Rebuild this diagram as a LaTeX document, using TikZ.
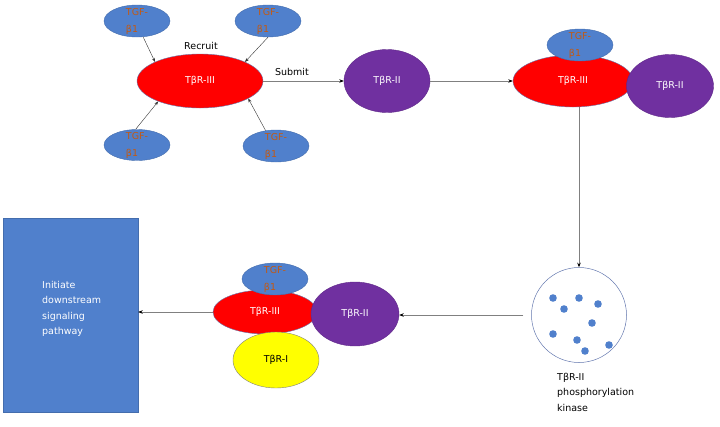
\documentclass[tikz,border=0pt]{standalone}
\usepackage{fontspec}
\setmainfont{DejaVu Sans}
\usetikzlibrary{shapes.geometric,arrows.meta}
\definecolor{tgfblue}{RGB}{80,128,204}
\definecolor{tgftext}{RGB}{196,89,17}
\definecolor{rpurple}{RGB}{112,48,160}
\definecolor{rred}{RGB}{255,0,0}
\definecolor{ryellow}{RGB}{255,255,0}
\definecolor{edgeline}{RGB}{100,120,175}
\definecolor{conn}{RGB}{128,128,128}
\begin{document}
\begin{tikzpicture}[x=1pt,y=-1pt,
  font=\fontsize{9.5}{15.5}\selectfont,
  ell/.style={ellipse, inner sep=0pt, line width=0.4pt},
  tgf/.style={ell, fill=tgfblue, draw=tgfblue!85!black, minimum width=66pt, minimum height=32pt,
    label={[text=tgftext, align=left, font=\fontsize{9.5}{17}\selectfont]center:TGF-\\β1}},
  rthree/.style={ell, fill=rred, draw=edgeline, text=white},
  rtwo/.style={ell, fill=rpurple, draw=rpurple!85!black, text=white, minimum width=87pt, minimum height=63pt},
  rone/.style={ell, fill=ryellow, draw=black!50, text=black, minimum width=86pt, minimum height=56pt},
  thinarr/.style={draw=black!80, line width=0.4pt, -{Stealth[length=4pt,width=3pt]}},
  conarr/.style={draw=conn, line width=0.6pt, -{Stealth[length=4.5pt,width=3.5pt,color=black]}},
  plain/.style={inner sep=0pt, align=left}]
\useasboundingbox (0,0) rectangle (720,426);

% --- group 1: recruit ---
\node[rthree, minimum width=126pt, minimum height=54pt] (r1) at (200,81) {TβR-III};
\node[tgf] (t1) at (137,21) {};
\node[tgf] (t2) at (268,21) {};
\node[tgf, minimum height=31pt] (t3) at (137,145) {};
\node[tgf] (t4) at (276,146) {};
\draw[thinarr] (t1.-69) -- (r1.157);
\draw[thinarr] (t2.south) -- (r1.23);
\draw[thinarr] (t3.95) -- (r1.206);
\draw[thinarr] (t4.124) -- (r1.-20);
\node[plain] (recruit) at (201,46) {Recruit};
\node[plain] (submit) at (292,72) {Submit};

% --- TβR-II ---
\node[rtwo, minimum width=86pt] (p1) at (387,81) {TβR-II};
\draw[conarr] (r1.east) -- (p1.west);

% --- group 2 ---
\node[rthree, minimum width=120pt, minimum height=52pt] (r2) at (573,81) {TβR-III};
\node[tgf] (t5) at (580,45) {};
\node[rtwo] (p2) at (670,86) {TβR-II};
\draw[conarr] (p1.east) -- (r2.west);

% --- kinase circle ---
\node[circle, draw=edgeline, line width=0.5pt, fill=white, minimum size=95pt, inner sep=0pt] (circ) at (579,315) {};
\foreach \px/\py [count=\i] in {553/298,579/298,598/304,564/309,592/323,553/334,577/340,585/351,609/345}
  \fill[tgfblue] (\px,\py) circle (3.8pt);
\node[plain, anchor=north west] (kin) at (557,373) {TβR-II\\phosphorylation\\kinase};
\draw[conarr] (circ.north |- r2.south) -- (circ.north);

% --- group 3 ---
\node[rthree, minimum width=104pt, minimum height=44pt] (r3) at (265,312) {TβR-III};
\node[tgf] (t6) at (275,279) {};
\node[rtwo, minimum width=88pt, minimum height=64pt] (p3) at (355,314) {TβR-II};
\node[rone] (y1) at (276,360) {TβR-I};
\draw[conarr, shorten <=8pt] (circ.west) -- (circ.west -| p3.east);

% --- box ---
\node[draw=tgfblue!85!black, fill=tgfblue, line width=0.4pt, minimum width=135pt, minimum height=194pt, inner sep=0pt] (box) at (70.5,315) {};
\node[plain, text=white, anchor=north west] (boxtext) at (42,281) {Initiate\\downstream\\signaling\\pathway};
\draw[conarr] (r3.west) -- (r3.west -| box.east);
\end{tikzpicture}
\end{document}
